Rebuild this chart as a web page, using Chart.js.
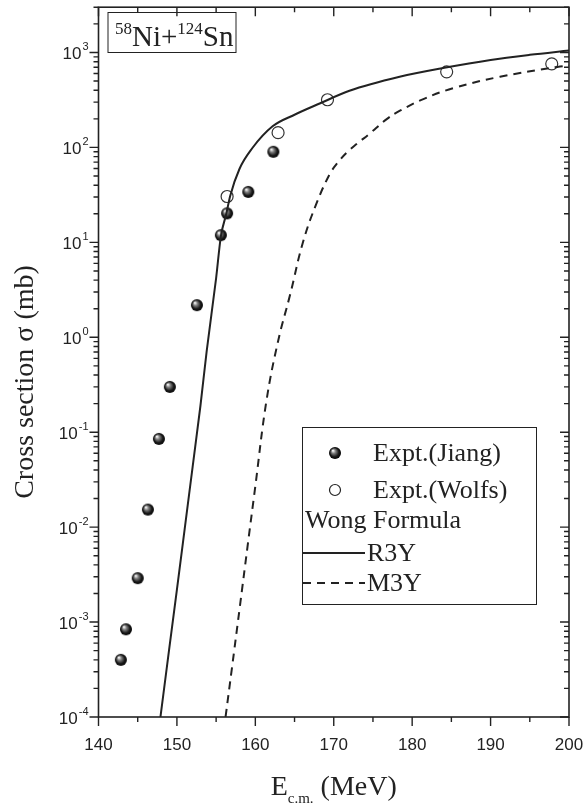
<!DOCTYPE html>
<html lang="en">

<head>
    <meta charset="UTF-8">
    <title>58Ni+124Sn cross section</title>
    <script src="https://cdn.jsdelivr.net/npm/chart.js"></script>
    <style>
        body {
            margin: 0;
            padding: 0;
            background: #fff;
        }

        canvas {
            display: block;
        }
    </style>
</head>

<body>
    <canvas id="fusionChart" width="587" height="807"></canvas>

    <script>
        // tick labels
        const xTicks = [140, 150, 160, 170, 180, 190, 200];
        const yExponents = [-4, -3, -2, -1, 0, 1, 2, 3];

        // Expt. (Jiang)
        const jiangE = [142.85, 143.5, 145.0, 146.3, 147.7, 149.1, 152.55, 155.6, 156.4, 159.1, 162.3];
        const jiangSigma = [4.0e-4, 8.4e-4, 2.9e-3, 0.0153, 0.085, 0.30, 2.18, 11.9, 20.2, 34, 90];

        // Expt. (Wolfs)
        const wolfsE = [156.4, 162.9, 169.2, 184.4, 197.8];
        const wolfsSigma = [30.4, 143, 318, 625, 760];

        // Wong formula, R3Y
        const r3yE = [147.9, 149, 150, 151, 152, 153, 153.8, 155, 155.6, 156.3, 156.8, 158, 159.6, 162.2, 165, 168.2, 172, 178.4, 184.1, 190, 195, 200];
        const r3ySigma = [1e-4, 5.1e-4, 2.2e-3, 9.7e-3, 0.043, 0.19, 0.72, 4.2, 11.5, 20, 31, 60, 98, 167, 221, 290, 395, 555, 690, 835, 945, 1050];

        // Wong formula, M3Y
        const m3yE = [156.2, 157, 158, 159, 160, 161.4, 162.9, 164.45, 166.1, 167.9, 169.5, 170.5, 171.7, 173, 174.5, 176.8, 178.5, 181.5, 185.2, 191.2, 198.5, 200];
        const m3ySigma = [1e-4, 3.2e-4, 1.4e-3, 6.2e-3, 0.027, 0.21, 0.91, 2.84, 10.2, 27, 52.5, 69, 89, 110, 138, 200, 245, 325, 420, 555, 705, 730];

        const toPoints = (xs, ys) => xs.map((x, i) => ({ x: x, y: ys[i] }));

        const INK = '#222';
        const SERIF = '"Liberation Serif", "Times New Roman", serif';
        const SANS = '"Liberation Sans", Arial, sans-serif';

        // shaded ball marker
        function makeBall(r) {
            const c = document.createElement('canvas');
            const s = 2 * r + 2;
            c.width = s;
            c.height = s;
            const g = c.getContext('2d');
            const m = s / 2;
            const grad = g.createRadialGradient(m - r * 0.35, m - r * 0.4, r * 0.08, m, m, r);
            grad.addColorStop(0, '#f2f2f2');
            grad.addColorStop(0.3, '#808080');
            grad.addColorStop(0.7, '#1c1c1c');
            grad.addColorStop(1, '#000');
            g.fillStyle = grad;
            g.beginPath();
            g.arc(m, m, r, 0, Math.PI * 2);
            g.fill();
            return c;
        }
        const ball = makeBall(6);

        // axes, ticks, titles, legend and label box
        const framePlugin = {
            id: 'frame',
            afterDraw(chart) {
                const ctx = chart.ctx;
                const { left, right, top, bottom } = chart.chartArea;
                const xs = chart.scales.x;
                const ys = chart.scales.y;
                ctx.save();
                ctx.strokeStyle = INK;
                ctx.fillStyle = INK;

                // frame
                ctx.lineWidth = 1.6;
                ctx.strokeRect(left, top, right - left, bottom - top);

                // x ticks
                ctx.lineWidth = 1.4;
                ctx.beginPath();
                for (let v = 140; v <= 200; v += 5) {
                    const px = xs.getPixelForValue(v);
                    const len = v % 10 === 0 ? 9 : 5;
                    ctx.moveTo(px, bottom);
                    ctx.lineTo(px, bottom + len);
                    ctx.moveTo(px, top);
                    ctx.lineTo(px, top + len);
                }
                // y ticks
                for (let e = -4; e <= 3; e++) {
                    for (let k = 1; k <= 9; k++) {
                        const v = k * Math.pow(10, e);
                        if (v > 3000) break;
                        const py = ys.getPixelForValue(v);
                        const len = k === 1 ? 9 : 5;
                        ctx.moveTo(left, py);
                        ctx.lineTo(left - len, py);
                        ctx.moveTo(right, py);
                        ctx.lineTo(right - len, py);
                    }
                }
                ctx.stroke();

                // x tick labels
                ctx.font = '17px ' + SANS;
                ctx.textAlign = 'center';
                ctx.textBaseline = 'alphabetic';
                xTicks.forEach(v => {
                    ctx.fillText(String(v), xs.getPixelForValue(v), bottom + 33);
                });

                // y tick labels 10^n
                ctx.textAlign = 'left';
                yExponents.forEach(e => {
                    const py = ys.getPixelForValue(Math.pow(10, e));
                    ctx.font = '17px ' + SANS;
                    const wBase = ctx.measureText('10').width;
                    ctx.font = '11px ' + SANS;
                    const wExp = ctx.measureText(String(e)).width;
                    const x0 = left - 11 - wBase - wExp;
                    ctx.font = '17px ' + SANS;
                    ctx.fillText('10', x0, py + 7);
                    ctx.font = '11px ' + SANS;
                    ctx.fillText(String(e), x0 + wBase + 1, py - 2);
                });

                // x axis title: E_c.m. (MeV)
                const big = '28px ' + SERIF;
                const sub = '15px ' + SERIF;
                ctx.font = big;
                const wE = ctx.measureText('E').width;
                const wUnit = ctx.measureText(' (MeV)').width;
                ctx.font = sub;
                const wSub = ctx.measureText('c.m.').width;
                let tx = (left + right) / 2 - (wE + wSub + wUnit) / 2;
                ctx.font = big;
                ctx.fillText('E', tx, 795);
                ctx.font = sub;
                ctx.fillText('c.m.', tx + wE, 803);
                ctx.font = big;
                ctx.fillText(' (MeV)', tx + wE + wSub, 795);

                // y axis title
                ctx.save();
                ctx.translate(33, 382);
                ctx.rotate(-Math.PI / 2);
                ctx.textAlign = 'center';
                ctx.font = '28px ' + SERIF;
                ctx.fillText('Cross section \u03c3 (mb)', 0, 0);
                ctx.restore();

                // reaction label box
                ctx.lineWidth = 1;
                ctx.strokeRect(108, 12.5, 128, 40);
                const seg = [
                    ['58', '17px ', 34],
                    ['Ni+', '29px ', 46],
                    ['124', '17px ', 34],
                    ['Sn', '29px ', 46]
                ];
                let bx = 115;
                seg.forEach(s => {
                    ctx.font = s[1] + SERIF;
                    ctx.fillText(s[0], bx, s[2]);
                    bx += ctx.measureText(s[0]).width;
                });

                // legend
                ctx.lineWidth = 1;
                ctx.strokeRect(302.5, 427.5, 234, 177);
                ctx.font = '26px ' + SERIF;
                ctx.textBaseline = 'middle';
                ctx.drawImage(ball, 335 - ball.width / 2, 453 - ball.height / 2);
                ctx.fillText('Expt.(Jiang)', 373, 454);
                ctx.beginPath();
                ctx.arc(335, 490, 5.5, 0, Math.PI * 2);
                ctx.lineWidth = 1.2;
                ctx.stroke();
                ctx.fillText('Expt.(Wolfs)', 373, 491);
                ctx.fillText('Wong Formula', 305, 521);
                ctx.lineWidth = 2;
                ctx.beginPath();
                ctx.moveTo(303, 553);
                ctx.lineTo(365, 553);
                ctx.stroke();
                ctx.fillText('R3Y', 367, 554);
                ctx.setLineDash([8, 6]);
                ctx.beginPath();
                ctx.moveTo(303, 583);
                ctx.lineTo(365, 583);
                ctx.stroke();
                ctx.setLineDash([]);
                ctx.fillText('M3Y', 367, 584);

                ctx.restore();
            }
        };

        new Chart(document.getElementById('fusionChart'), {
            type: 'scatter',
            data: {
                datasets: [
                    {
                        label: 'R3Y',
                        data: toPoints(r3yE, r3ySigma),
                        showLine: true,
                        borderColor: INK,
                        borderWidth: 2,
                        pointRadius: 0,
                        cubicInterpolationMode: 'monotone'
                    },
                    {
                        label: 'M3Y',
                        data: toPoints(m3yE, m3ySigma),
                        showLine: true,
                        borderColor: INK,
                        borderWidth: 2,
                        borderDash: [8, 6],
                        pointRadius: 0,
                        tension: 0.4
                    },
                    {
                        label: 'Expt.(Jiang)',
                        data: toPoints(jiangE, jiangSigma),
                        pointStyle: ball,
                        pointRadius: 6
                    },
                    {
                        label: 'Expt.(Wolfs)',
                        data: toPoints(wolfsE, wolfsSigma),
                        pointStyle: 'circle',
                        pointRadius: 6,
                        backgroundColor: 'rgba(0,0,0,0)',
                        borderColor: '#333',
                        borderWidth: 1.2
                    }
                ]
            },
            options: {
                responsive: false,
                devicePixelRatio: 1,
                animation: false,
                layout: {
                    padding: { left: 98.5, right: 18, top: 5, bottom: 90 }
                },
                scales: {
                    x: { type: 'linear', min: 140, max: 200, display: false },
                    y: { type: 'logarithmic', min: 1e-4, max: 3000, display: false }
                },
                plugins: {
                    legend: { display: false },
                    tooltip: { enabled: false }
                }
            },
            plugins: [framePlugin]
        });
    </script>
</body>

</html>
